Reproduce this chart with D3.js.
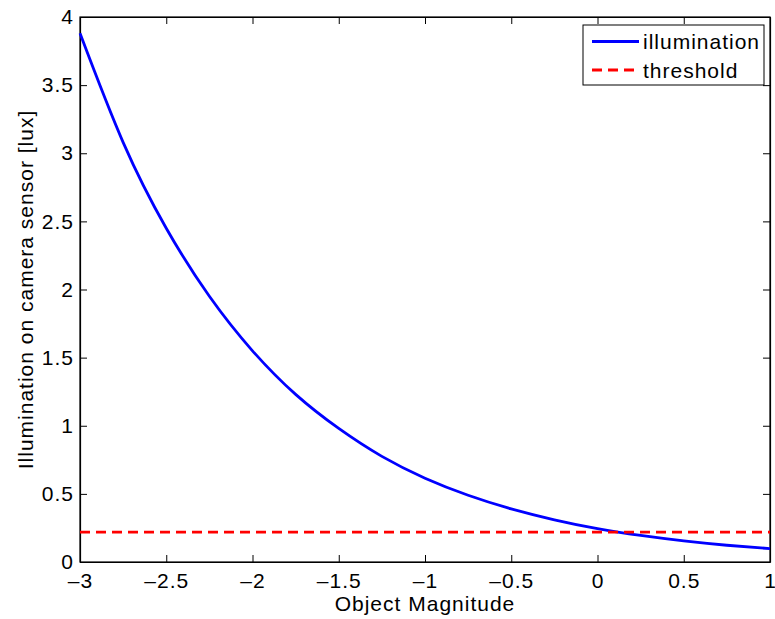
<!DOCTYPE html>
<html>
<head>
<meta charset="utf-8">
<script src="https://cdn.jsdelivr.net/npm/d3@7"></script>
<style>
  body { margin: 0; background: #fff; }
  svg text { font-family: "Liberation Sans", Arial, Helvetica, sans-serif; fill: #000; letter-spacing: 1px; }
</style>
</head>
<body>
<div id="chart"></div>
<script>
// magnitudes and illumination readings (lux)
const magnitudes = [-3, -2.75, -2.5, -2.25, -2, -1.75, -1.5, -1.25, -1, -0.75, -0.5, -0.25, 0, 0.25, 0.5, 0.75, 1];
const illumination = [3.88, 3.08, 2.45, 1.95, 1.55, 1.23, 0.98, 0.775, 0.615, 0.49, 0.39, 0.31, 0.245, 0.195, 0.155, 0.123, 0.098];
const thresholdValue = 0.22;
const xTicks = [-3, -2.5, -2, -1.5, -1, -0.5, 0, 0.5, 1];
const yTicks = [0, 0.5, 1, 1.5, 2, 2.5, 3, 3.5, 4];
const legendNames = ["illumination", "threshold"];

const W = 775, H = 619;
const m = { top: 17, right: 5, bottom: 57, left: 80 };
const iw = W - m.left - m.right, ih = H - m.top - m.bottom;
const FS = "21px";

const svg = d3.select("#chart").append("svg").attr("width", W).attr("height", H);
const g = svg.append("g").attr("transform", `translate(${m.left},${m.top})`);

const x = d3.scaleLinear().domain([-3, 1]).range([0, iw]);
const y = d3.scaleLinear().domain([0, 4]).range([ih, 0]);

const fmt = d => String(d).replace("-", "\u2013");

// axes (ticks point inward, mirrored on top/right)
const tickLen = 7;
g.append("g").attr("transform", `translate(0,${ih})`)
  .call(d3.axisBottom(x).tickValues(xTicks).tickFormat(fmt).tickSizeInner(-tickLen).tickSizeOuter(0).tickPadding(11));
g.append("g")
  .call(d3.axisTop(x).tickValues(xTicks).tickFormat("").tickSizeInner(-tickLen).tickSizeOuter(0));
g.append("g")
  .call(d3.axisLeft(y).tickValues(yTicks).tickFormat(fmt).tickSizeInner(-tickLen).tickSizeOuter(0).tickPadding(6));
g.append("g").attr("transform", `translate(${iw},0)`)
  .call(d3.axisRight(y).tickValues(yTicks).tickFormat("").tickSizeInner(-tickLen).tickSizeOuter(0));

g.selectAll(".domain").attr("stroke", "#000").attr("stroke-width", 1.2);
g.selectAll(".tick line").attr("stroke", "#000").attr("stroke-width", 1);
g.selectAll(".tick text").style("font-size", FS).attr("fill", "#000");

g.append("rect").attr("width", iw).attr("height", ih)
  .attr("fill", "none").attr("stroke", "#000").attr("stroke-width", 1.2);

// series
const pts = magnitudes.map((mg, i) => [mg, illumination[i]]);
g.append("path")
  .datum(pts)
  .attr("fill", "none")
  .attr("stroke", "#0000ff")
  .attr("stroke-width", 2.8)
  .attr("d", d3.line().x(d => x(d[0])).y(d => y(d[1])).curve(d3.curveNatural));

g.append("line")
  .attr("x1", x(-3)).attr("x2", x(1))
  .attr("y1", y(thresholdValue)).attr("y2", y(thresholdValue))
  .attr("stroke", "#ff0000")
  .attr("stroke-width", 2.8)
  .attr("stroke-dasharray", "10,6");

// axis labels
svg.append("text")
  .attr("x", m.left + iw / 2).attr("y", 611)
  .attr("text-anchor", "middle").style("font-size", FS)
  .text("Object Magnitude");
svg.append("text")
  .attr("transform", `translate(33,${m.top + ih / 2}) rotate(-90)`)
  .attr("text-anchor", "middle").style("font-size", FS)
  .text("Illumination on camera sensor [lux]");

// legend
const lg = svg.append("g").attr("transform", "translate(583,25)");
lg.append("rect").attr("width", 181).attr("height", 60)
  .attr("fill", "#fff").attr("stroke", "#000").attr("stroke-width", 1);
legendNames.forEach((name, i) => {
  const ly = 16.5 + i * 28.5;
  lg.append("line").attr("x1", 9).attr("x2", 56).attr("y1", ly).attr("y2", ly)
    .attr("stroke", i === 0 ? "#0000ff" : "#ff0000").attr("stroke-width", 2.8)
    .attr("stroke-dasharray", i === 0 ? null : "10,6");
  lg.append("text").attr("x", 60).attr("y", ly + 7.5)
    .style("font-size", FS).text(name);
});
</script>
</body>
</html>
